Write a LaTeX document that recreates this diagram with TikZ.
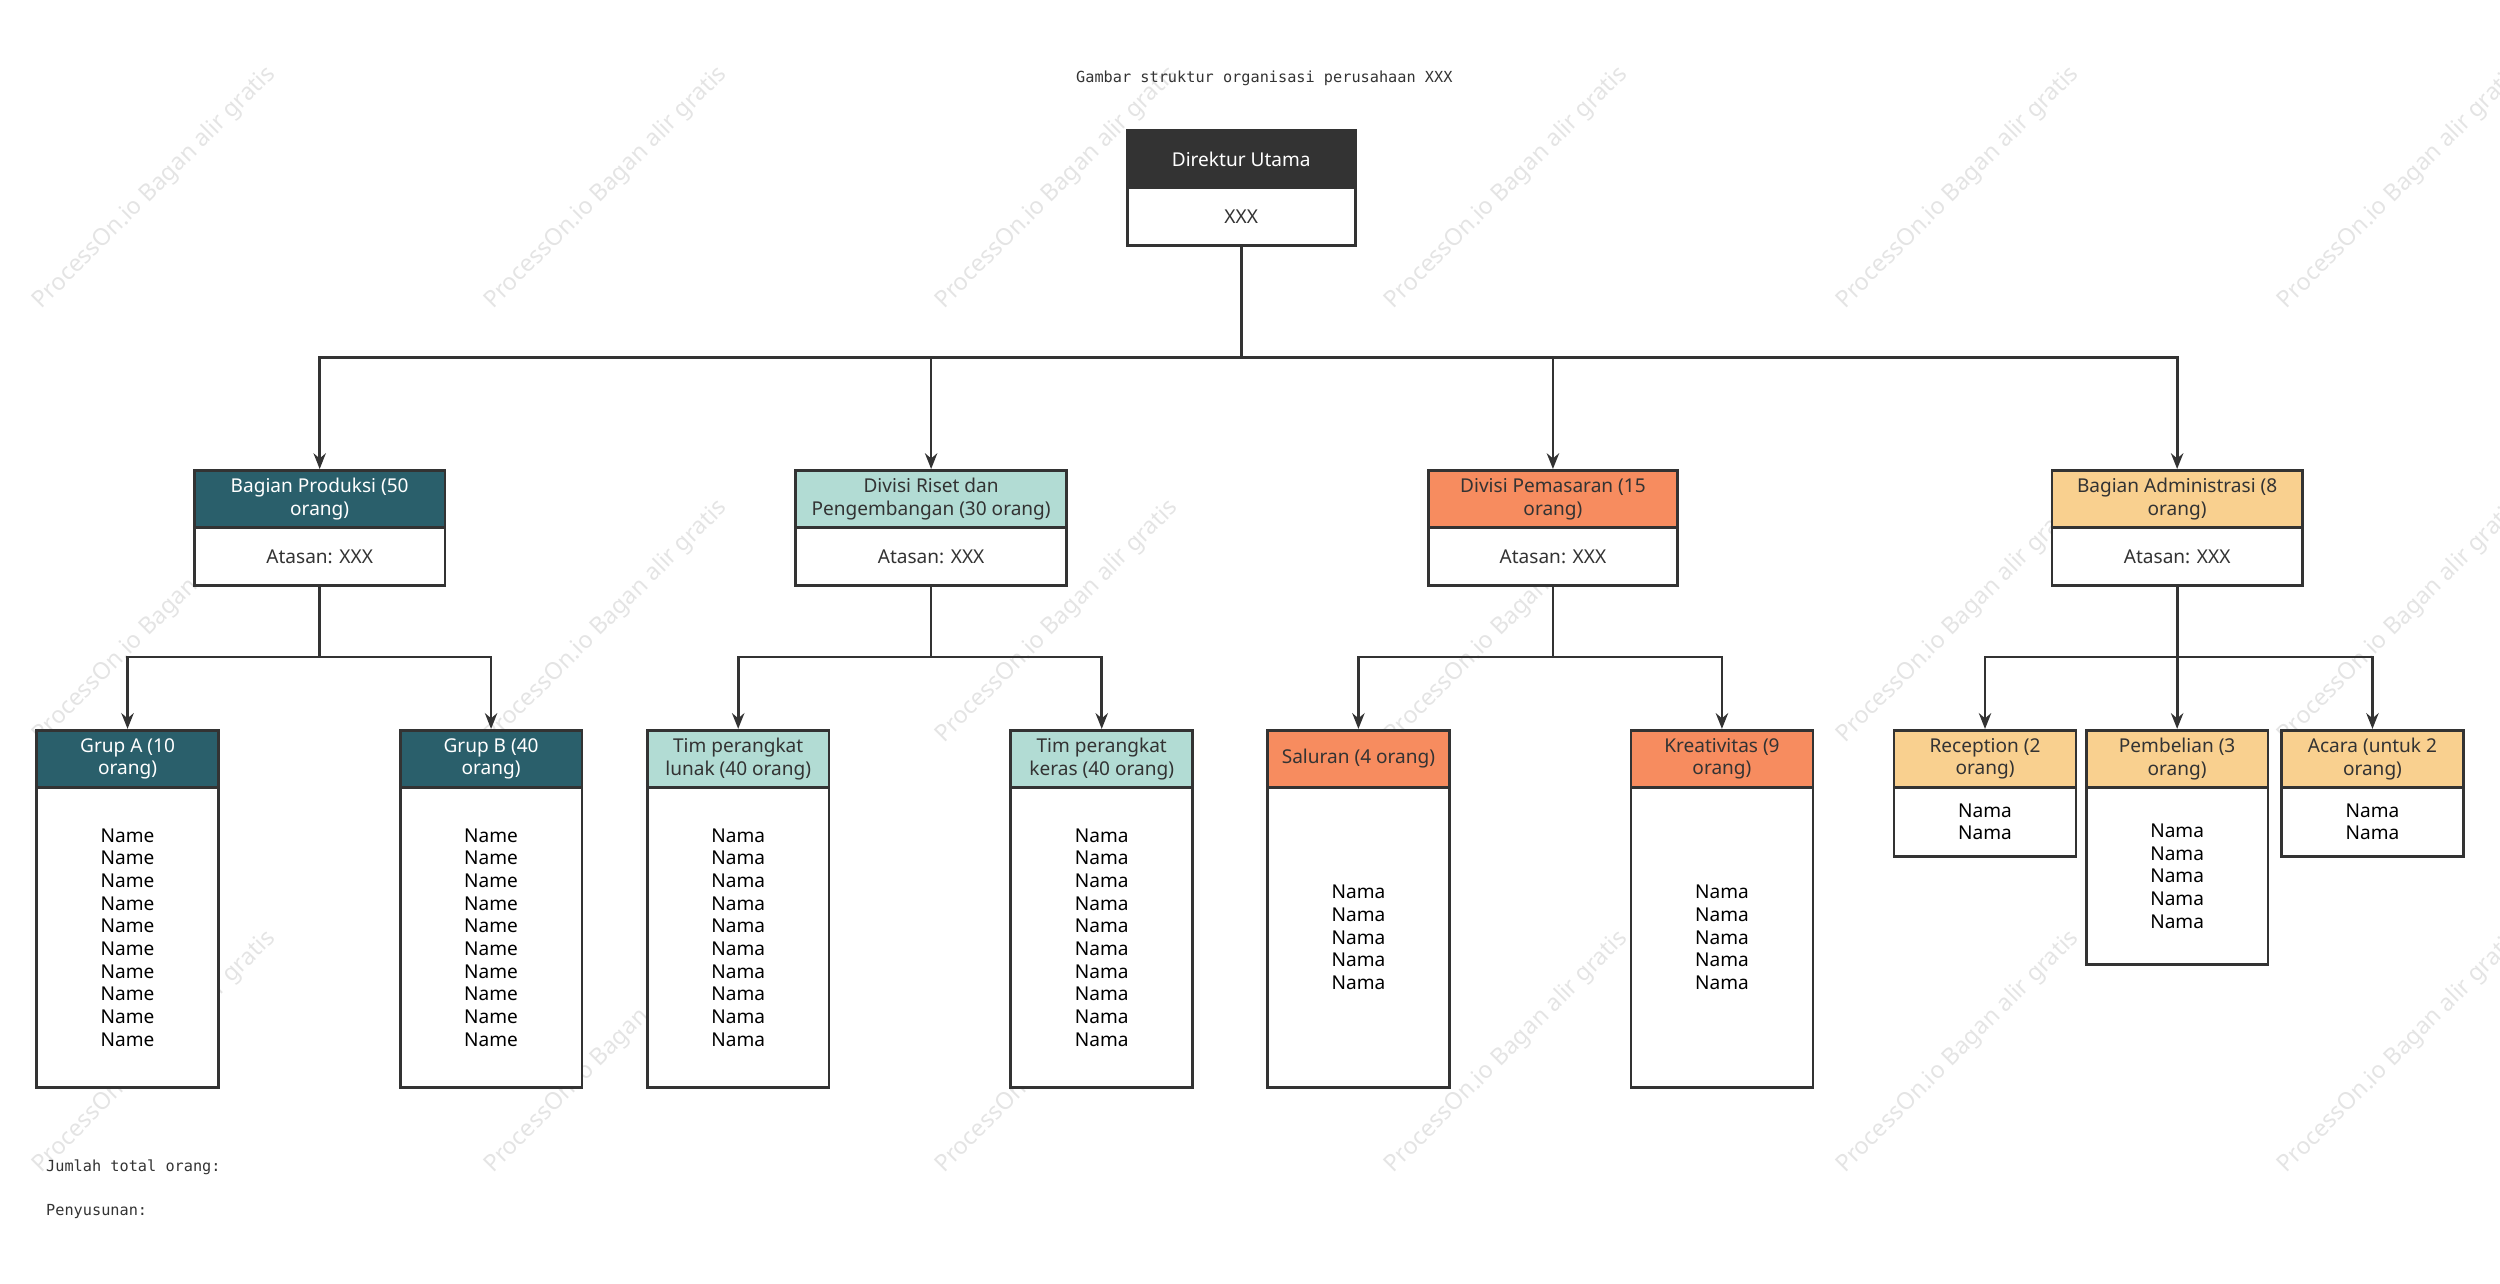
\documentclass[tikz,border=0pt]{standalone}
\usepackage{fontspec}
\setmainfont{Noto Sans}
\setmonofont{DejaVu Sans Mono}
\usetikzlibrary{arrows.meta}
\definecolor{dk}{HTML}{333333}
\definecolor{teal}{HTML}{2A5F6B}
\definecolor{lteal}{HTML}{B2DCD4}
\definecolor{orng}{HTML}{F78C5F}
\definecolor{ylw}{HTML}{F9D08F}
\definecolor{wm}{HTML}{E4E4E4}
\tikzset{
 bx/.style={draw=dk, line width=1.2pt, inner sep=1pt, align=center, font=\fontsize{8.5}{10}\selectfont, text=dk},
 hd/.style={bx, minimum height=0.9cm},
 ln/.style={draw=dk, line width=1.2pt},
 arr/.style={ln, -{Stealth[length=7pt,width=5.5pt]}},
 wmk/.style={text=wm, rotate=45, font=\fontsize{10.5}{12}\selectfont},
 mono/.style={font=\ttfamily\fontsize{6.8}{8}\selectfont, text=dk, anchor=west}
}
\begin{document}
\begin{tikzpicture}[x=0.025cm,y=-0.025cm]
\useasboundingbox (0,0) rectangle (1568,805);
% watermarks
\foreach \x in {97,380,663,945,1228,1505}{
 \foreach \y in {118,390,660}{
  \node[wmk] at (\x,\y) {ProcessOn.io Bagan alir gratis};
 }}
\node[font=\ttfamily\fontsize{6.8}{8}\selectfont, text=dk] (title) at (793,49) {Gambar struktur organisasi perusahaan XXX};
% director
\node[hd, fill=dk, text=white, minimum width=3.575cm] (dh) at (778.5,100) {Direktur Utama};
\node[bx, fill=white, minimum width=3.575cm, minimum height=0.9cm] (db) at (778.5,136) {XXX};
% level 2
\newcommand{\lvtwo}[6]{%
 \node[hd, fill=#3, text=#4, minimum width=#5cm] (#1h) at (#2,313) {#6};
 \node[bx, fill=white, minimum width=#5cm, minimum height=0.9cm] (#1b) at (#2,349) {Atasan: XXX};}
\lvtwo{p}{200.5}{teal}{white}{3.925}{Bagian Produksi (50\\orang)}
\lvtwo{r}{584}{lteal}{dk}{4.25}{Divisi Riset dan\\Pengembangan (30 orang)}
\lvtwo{m}{974}{orng}{dk}{3.9}{Divisi Pemasaran (15\\orang)}
\lvtwo{a}{1365.5}{ylw}{dk}{3.925}{Bagian Administrasi (8\\orang)}
\coordinate (j0) at (778.5,224);
\draw[ln] (db.south) -- (j0);
\foreach \n in {p,r,m,a}{\draw[arr] (j0) -| (\n h.north);}
% level 3
\newcommand{\lvthree}[8]{%
 \node[hd, fill=#3, text=#4, minimum width=2.85cm] (#1h) at (#2,476) {#5};
 \node[bx, fill=white, minimum width=2.85cm, minimum height=#6cm] (#1b) at (#2,#7) {};
 \node[font=\fontsize{8.5}{10.1}\selectfont, text=black, align=center] at (#1b.center) {#8};}
\def\names{Name\\Name\\Name\\Name\\Name\\Name\\Name\\Name\\Name\\Name}
\def\namas{Nama\\Nama\\Nama\\Nama\\Nama\\Nama\\Nama\\Nama\\Nama\\Nama}
\def\fnam{Nama\\Nama\\Nama\\Nama\\Nama}
\lvthree{ga}{80}{teal}{white}{Grup A (10\\orang)}{4.7}{588}{\names}
\lvthree{gb}{308}{teal}{white}{Grup B (40\\orang)}{4.7}{588}{\names}
\lvthree{ra}{463}{lteal}{dk}{Tim perangkat\\lunak (40 orang)}{4.7}{588}{\namas}
\lvthree{rb}{691}{lteal}{dk}{Tim perangkat\\keras (40 orang)}{4.7}{588}{\namas}
\lvthree{ma}{852}{orng}{dk}{Saluran (4 orang)}{4.7}{588}{\fnam}
\lvthree{mb}{1080}{orng}{dk}{Kreativitas (9\\orang)}{4.7}{588}{\fnam}
\lvthree{aa}{1245}{ylw}{dk}{Reception (2\\orang)}{1.075}{515.5}{Nama\\Nama}
\lvthree{ab}{1365.5}{ylw}{dk}{Pembelian (3\\orang)}{2.775}{549.5}{\fnam}
\lvthree{ac}{1488}{ylw}{dk}{Acara (untuk 2\\orang)}{1.075}{515.5}{Nama\\Nama}
\coordinate (jp) at (200.5,412);
\coordinate (jr) at (584,412);
\coordinate (jm) at (974,412);
\coordinate (ja) at (1365.5,412);
\draw[ln] (pb.south) -- (jp); \draw[arr] (jp) -| (gah.north); \draw[arr] (jp) -| (gbh.north);
\draw[ln] (rb.south) -- (jr); \draw[arr] (jr) -| (rah.north); \draw[arr] (jr) -| (rbh.north);
\draw[ln] (mb.south) -- (jm); \draw[arr] (jm) -| (mah.north); \draw[arr] (jm) -| (mbh.north);
\draw[ln] (ab.south) -- (ja); \draw[arr] (ja) -| (aah.north); \draw[arr] (ja) -- (abh.north); \draw[arr] (ja) -| (ach.north);
% footer
\node[mono] (f1) at (24,732) {Jumlah total orang:};
\node[mono] (f2) at (24,760) {Penyusunan:};
\end{tikzpicture}
\end{document}
